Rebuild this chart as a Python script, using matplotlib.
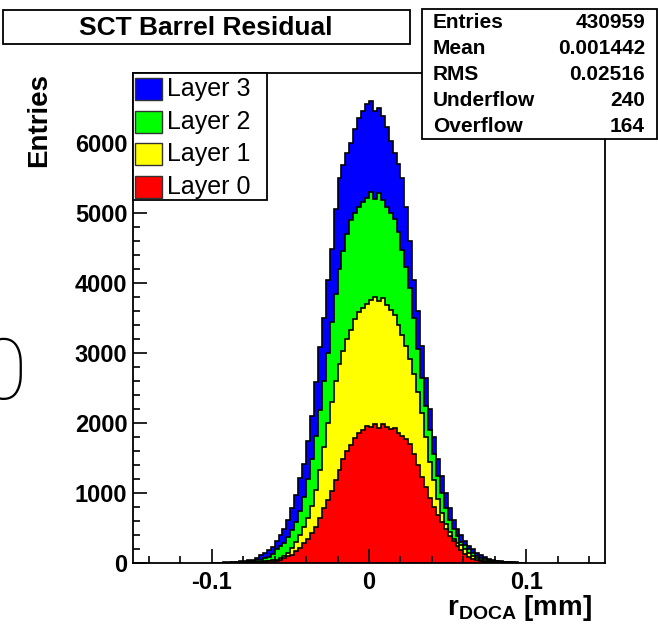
import numpy as np
import matplotlib
matplotlib.use("Agg")
import matplotlib.pyplot as plt
from matplotlib.patches import Rectangle
from matplotlib.ticker import MultipleLocator

plt.rcParams['font.family'] = ['Liberation Sans', 'DejaVu Sans']
plt.rcParams['mathtext.fontset'] = 'custom'
plt.rcParams['mathtext.rm'] = 'Liberation Sans:bold'
plt.rcParams['mathtext.bf'] = 'Liberation Sans:bold'
plt.rcParams['mathtext.it'] = 'Liberation Sans:bold'

# stacked heights, bins of 0.0025 from -0.1 to 0.1
stack_l3 = [4, 5, 6, 8, 10, 13, 18, 25, 30, 40,
            50, 78, 110, 145, 190, 235, 315, 400, 490, 620,
            780, 975, 1220, 1420, 1750, 2100, 2580, 3080, 3500, 4050,
            4490, 5050, 5500, 5680, 5850, 6000, 6200, 6350, 6450, 6550,
            6600, 6450, 6500, 6380, 6230, 6030, 5850, 5700, 5500, 5080,
            4600, 4050, 3600, 3100, 2640, 2200, 1800, 1480, 1250, 1000,
            780, 620, 490, 400, 320, 240, 195, 150, 115, 85,
            55, 42, 32, 25, 18, 13, 10, 8, 6, 5]
stack_l2 = [3, 3, 4, 5, 6, 8, 10, 13, 17, 22,
            28, 38, 50, 68, 90, 130, 200, 245, 290, 370,
            470, 580, 740, 940, 1200, 1480, 1820, 2180, 2600, 3000,
            3450, 3850, 4200, 4450, 4700, 4900, 5000, 5080, 5150, 5220,
            5300, 5200, 5280, 5180, 5080, 5000, 4920, 4730, 4470, 4230,
            3930, 3500, 3060, 2640, 2250, 1900, 1560, 1250, 1000, 790,
            620, 490, 380, 300, 255, 205, 140, 100, 70, 52,
            40, 31, 25, 18, 14, 10, 8, 6, 5, 4]
stack_l1 = [2, 2, 3, 3, 4, 5, 6, 7, 9, 11,
            13, 16, 20, 24, 30, 38, 45, 65, 95, 150,
            210, 300, 400, 510, 640, 820, 1050, 1330, 1660, 2000,
            2300, 2600, 2850, 3030, 3200, 3330, 3480, 3580, 3650, 3700,
            3760, 3800, 3740, 3780, 3680, 3620, 3540, 3400, 3260, 3100,
            2920, 2700, 2440, 2150, 1800, 1450, 1180, 920, 720, 560,
            440, 340, 290, 255, 200, 150, 100, 65, 45, 33,
            26, 20, 16, 12, 10, 8, 6, 5, 4, 3]
stack_l0 = [1, 1, 1, 1, 2, 2, 3, 4, 5, 6,
            8, 10, 13, 17, 22, 28, 35, 50, 75, 95,
            120, 165, 220, 280, 350, 430, 520, 650, 780, 900,
            1030, 1180, 1330, 1480, 1600, 1680, 1790, 1860, 1900, 1960,
            1950, 1990, 1930, 1980, 1940, 1910, 1930, 1860, 1820, 1770,
            1700, 1560, 1400, 1230, 1080, 930, 800, 690, 580, 480,
            390, 310, 240, 180, 130, 90, 55, 38, 25, 17,
            12, 8, 6, 5, 4, 3, 2, 2, 1, 1]

layer_names = ['Layer 3', 'Layer 2', 'Layer 1', 'Layer 0']
layer_colors = ['#0000ff', '#00ff00', '#ffff00', '#ff0000']

x_ticks = [-0.1, 0, 0.1]
x_ticklabels = ['-0.1', '0', '0.1']
y_ticks = [0, 1000, 2000, 3000, 4000, 5000, 6000]

stat_names = ['Entries', 'Mean', 'RMS', 'Underflow', 'Overflow']
stat_values = ['430959', '0.001442', '0.02516', '240', '164']

W, H = 658, 629
fig = plt.figure(figsize=(W / 100, H / 100), dpi=100)


def fx(x):
    return x / W


def fy(y):
    return 1 - y / H


ax = fig.add_axes([fx(133), fy(563), 472 / W, 490 / H])

edges = np.linspace(-0.1, 0.1, len(stack_l0) + 1)
for vals, col in zip([stack_l3, stack_l2, stack_l1, stack_l0], layer_colors):
    ax.stairs(vals, edges, fill=True, facecolor=col, edgecolor='none')
    ax.stairs(vals, edges, fill=False, color='black', lw=1.2)

ax.set_xlim(-0.15, 0.15)
ax.set_ylim(0, 7000)
ax.set_xticks(x_ticks)
ax.set_xticklabels(x_ticklabels)
ax.set_yticks(y_ticks)
ax.set_yticklabels([str(v) for v in y_ticks])
ax.xaxis.set_minor_locator(MultipleLocator(0.02))
ax.yaxis.set_minor_locator(MultipleLocator(200))
ax.tick_params(which='both', direction='in', top=False, right=False, width=1.2)
ax.tick_params(which='major', length=10)
ax.tick_params(which='minor', length=5)
ax.tick_params(axis='y', labelsize=17, pad=4)
ax.tick_params(axis='x', labelsize=17, pad=6)
for lab in ax.get_xticklabels() + ax.get_yticklabels():
    lab.set_fontweight('bold')
for s in ax.spines.values():
    s.set_linewidth(1.3)

# axis titles
fig.text(fx(39), fy(73), 'Entries', rotation=90, ha='center', va='top',
         fontsize=20, fontweight='bold')
fig.text(fx(592), fy(615), r'$\mathbf{r_{DOCA}}$ [mm]', ha='right',
         va='baseline', fontsize=20, fontweight='bold')

# title box
fig.add_artist(Rectangle((fx(3), fy(44)), 407 / W, 34 / H, transform=fig.transFigure,
                         facecolor='white', edgecolor='black', lw=1.3))
fig.text(fx(206), fy(28), 'SCT Barrel Residual', ha='center', va='center',
         fontsize=19, fontweight='bold')

# stats box
fig.add_artist(Rectangle((fx(422), fy(139)), 235 / W, 130 / H, transform=fig.transFigure,
                         facecolor='white', edgecolor='black', lw=1.3))
for i, (n, v) in enumerate(zip(stat_names, stat_values)):
    yy = 22 + 26 * i
    fig.text(fx(433), fy(yy), n, ha='left', va='center', fontsize=15, fontweight='bold')
    fig.text(fx(645), fy(yy), v, ha='right', va='center', fontsize=15, fontweight='bold')

# legend
fig.add_artist(Rectangle((fx(133), fy(200)), 134 / W, 127 / H, transform=fig.transFigure,
                         facecolor='white', edgecolor='black', lw=1.3))
for i, (n, c) in enumerate(zip(layer_names, layer_colors)):
    yc = 89 + 32.7 * i
    fig.add_artist(Rectangle((fx(135), fy(yc + 11)), 27 / W, 22 / H,
                             transform=fig.transFigure, facecolor=c,
                             edgecolor='#333333', lw=1.0))
    fig.text(fx(167), fy(yc), n, ha='left', va='center', fontsize=18)

# stray glyph at the left edge
fig.text(fx(3), fy(376), '0', ha='center', va='center', fontsize=62,
         family='Roboto', fontweight='light')

fig.savefig('out.png', dpi=100)
